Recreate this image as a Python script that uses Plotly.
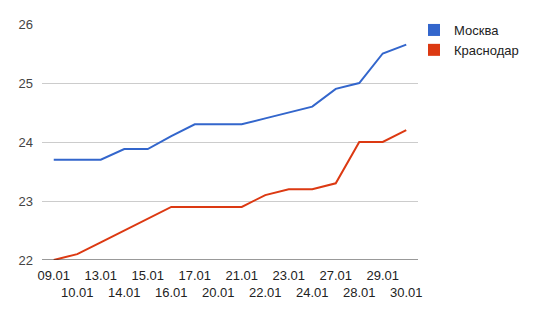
import plotly.graph_objects as go

dates = ["09.01", "10.01", "13.01", "14.01", "15.01", "16.01", "17.01", "20.01",
         "21.01", "22.01", "23.01", "24.01", "27.01", "28.01", "29.01", "30.01"]
moskva = [23.7, 23.7, 23.7, 23.88, 23.88, 24.1, 24.3, 24.3,
          24.3, 24.4, 24.5, 24.6, 24.9, 25.0, 25.5, 25.65]
krasnodar = [22.0, 22.1, 22.3, 22.5, 22.7, 22.9, 22.9, 22.9,
             22.9, 23.1, 23.2, 23.2, 23.3, 24.0, 24.0, 24.2]
y_ticks = [22, 23, 24, 25, 26]

BLUE = "#3366cc"
RED = "#dc3912"
FONT = "Arial, Liberation Sans, sans-serif"

fig = go.Figure()
fig.add_trace(go.Scatter(x=dates, y=moskva, mode="lines", line=dict(color=BLUE, width=2),
                         showlegend=False, hoverinfo="skip"))
fig.add_trace(go.Scatter(x=dates, y=krasnodar, mode="lines", line=dict(color=RED, width=2),
                         showlegend=False, hoverinfo="skip"))
# legend entries with square swatches
fig.add_trace(go.Scatter(x=[None], y=[None], mode="markers", name="Москва",
                         marker=dict(symbol="square", size=12, color=BLUE)))
fig.add_trace(go.Scatter(x=[None], y=[None], mode="markers", name="Краснодар",
                         marker=dict(symbol="square", size=12, color=RED)))

ticktext = [d if i % 2 == 0 else "<br>" + d for i, d in enumerate(dates)]

fig.update_layout(
    width=554, height=317,
    margin=dict(l=42, r=136, t=24, b=57),
    paper_bgcolor="white", plot_bgcolor="white",
    font=dict(family=FONT, size=13, color="#222222"),
    xaxis=dict(type="category", categoryorder="array", categoryarray=dates,
               range=[-0.5, len(dates) - 0.5],
               tickmode="array", tickvals=dates, ticktext=ticktext, tickangle=0,
               showgrid=False, zeroline=False, showline=False, ticks="",
               tickfont=dict(size=13, color="#222222"), ticklabelstandoff=6),
    yaxis=dict(range=[22, 26], tickvals=y_ticks, showgrid=True, gridcolor="#cccccc",
               gridwidth=1, zeroline=False, showline=False, ticks="",
               tickfont=dict(size=13, color="#444444"), ticklabelstandoff=8),
    legend=dict(x=1.0 - 4 / 376, xanchor="left", y=1.0 + 9 / 236, yanchor="top",
                font=dict(size=13, color="#222222"), tracegroupgap=5,
                itemwidth=30, bgcolor="rgba(0,0,0,0)"),
    showlegend=True,
)
fig.add_hline(y=22, line=dict(color="#333333", width=1), layer="above")

fig.write_html("out.html")
